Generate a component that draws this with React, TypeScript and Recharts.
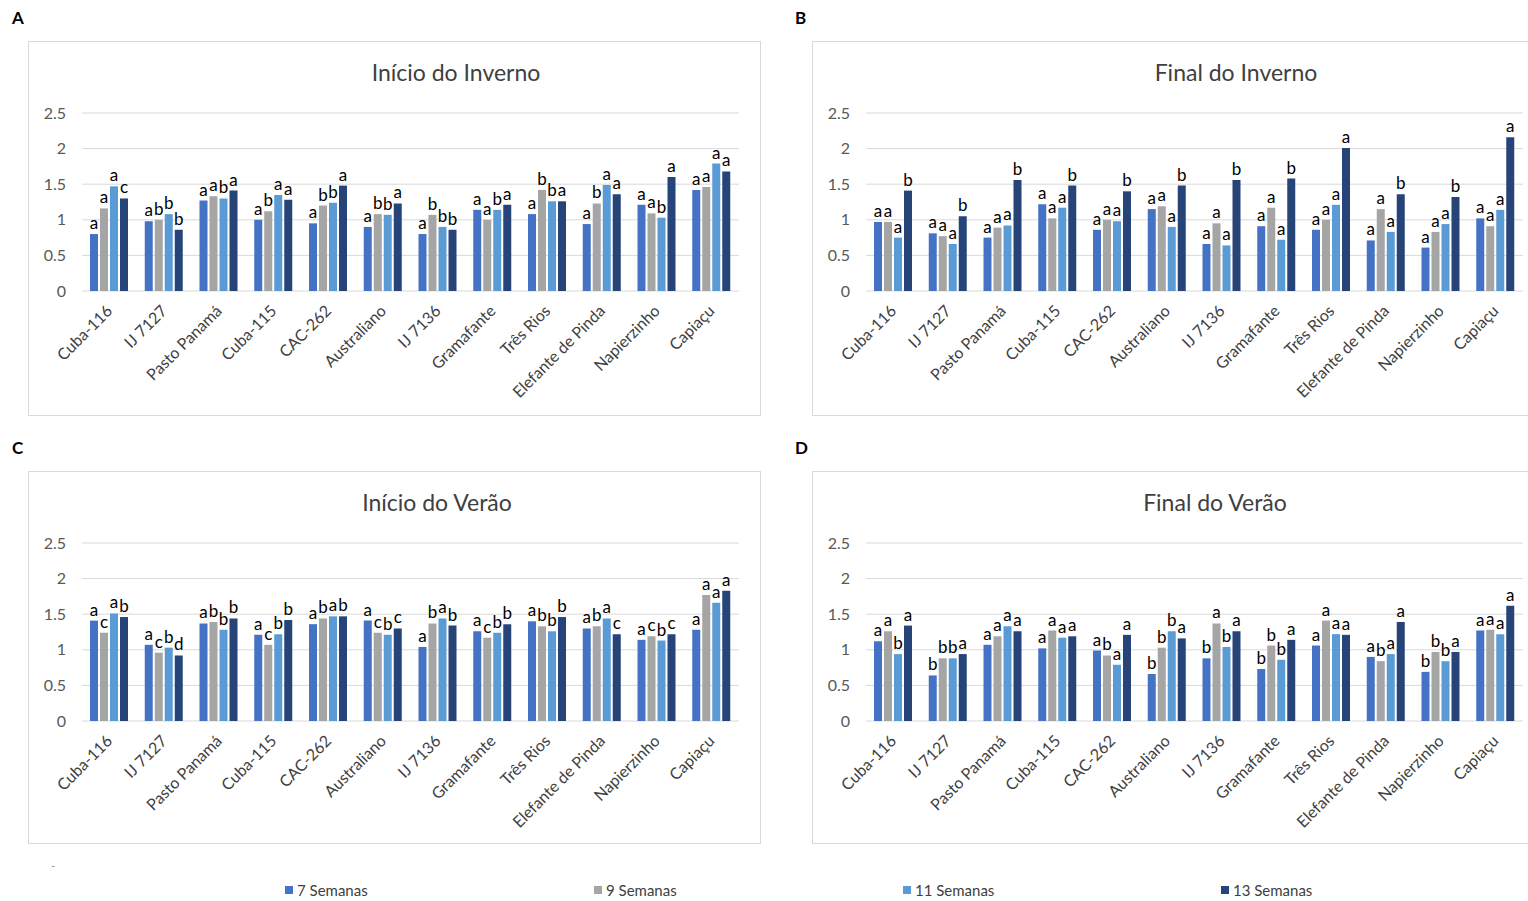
import { BarChart, Bar, XAxis, YAxis, CartesianGrid, LabelList } from 'recharts';

const categories = ["Cuba-116", "IJ 7127", "Pasto Panamá", "Cuba-115", "CAC-262", "Australiano", "IJ 7136", "Gramafante", "Três Rios", "Elefante de Pinda", "Napierzinho", "Capiaçu"];
const seriesNames = ["7 Semanas", "9 Semanas", "11 Semanas", "13 Semanas"];
const seriesColors = ["#4472C4", "#A5A5A5", "#5B9BD5", "#264478"];
const yTicks = [0, 0.5, 1, 1.5, 2, 2.5];

// A - Início do Inverno
const inicioInvernoValues = [
  [0.80, 0.98, 1.27, 1.00, 0.95, 0.90, 0.80, 1.14, 1.08, 0.94, 1.21, 1.42],
  [1.16, 1.00, 1.33, 1.12, 1.20, 1.08, 1.07, 1.00, 1.42, 1.23, 1.09, 1.46],
  [1.47, 1.08, 1.30, 1.35, 1.24, 1.07, 0.90, 1.14, 1.26, 1.49, 1.03, 1.79],
  [1.30, 0.86, 1.41, 1.28, 1.48, 1.23, 0.86, 1.21, 1.26, 1.36, 1.60, 1.68],
];
const inicioInvernoLetters = [
  ["a", "a", "a", "a", "a", "a", "a", "a", "a", "a", "a", "a"],
  ["a", "b", "a", "b", "b", "b", "b", "a", "b", "b", "a", "a"],
  ["a", "b", "b", "a", "b", "b", "b", "b", "b", "a", "b", "a"],
  ["c", "b", "a", "a", "a", "a", "b", "a", "a", "a", "a", "a"],
];

// B - Final do Inverno
const finalInvernoValues = [
  [0.97, 0.81, 0.75, 1.22, 0.86, 1.15, 0.66, 0.91, 0.86, 0.71, 0.61, 1.02],
  [0.97, 0.77, 0.89, 1.02, 1.00, 1.19, 0.95, 1.17, 1.00, 1.15, 0.83, 0.91],
  [0.75, 0.66, 0.92, 1.17, 0.98, 0.90, 0.64, 0.72, 1.21, 0.83, 0.94, 1.14],
  [1.41, 1.05, 1.56, 1.48, 1.40, 1.48, 1.56, 1.58, 2.01, 1.36, 1.32, 2.16],
];
const finalInvernoLetters = [
  ["a", "a", "a", "a", "a", "a", "a", "a", "a", "a", "a", "a"],
  ["a", "a", "a", "a", "a", "a", "a", "a", "a", "a", "a", "a"],
  ["a", "a", "a", "a", "a", "a", "a", "a", "a", "a", "a", "a"],
  ["b", "b", "b", "b", "b", "b", "b", "b", "a", "b", "b", "a"],
];

// C - Início do Verão
const inicioVeraoValues = [
  [1.41, 1.07, 1.37, 1.21, 1.36, 1.41, 1.04, 1.26, 1.40, 1.30, 1.14, 1.28],
  [1.24, 0.96, 1.39, 1.07, 1.44, 1.24, 1.37, 1.17, 1.33, 1.33, 1.19, 1.77],
  [1.51, 1.03, 1.28, 1.22, 1.47, 1.21, 1.44, 1.24, 1.26, 1.44, 1.13, 1.66],
  [1.46, 0.92, 1.44, 1.42, 1.47, 1.30, 1.34, 1.36, 1.46, 1.22, 1.22, 1.83],
];
const inicioVeraoLetters = [
  ["a", "a", "a", "a", "a", "a", "a", "a", "a", "a", "a", "a"],
  ["c", "c", "b", "c", "b", "c", "b", "c", "b", "b", "c", "a"],
  ["a", "b", "b", "b", "a", "b", "a", "b", "b", "a", "b", "a"],
  ["b", "d", "b", "b", "b", "c", "b", "b", "b", "c", "c", "a"],
];

// D - Final do Verão
const finalVeraoValues = [
  [1.12, 0.64, 1.07, 1.02, 0.99, 0.66, 0.88, 0.73, 1.06, 0.90, 0.69, 1.27],
  [1.26, 0.88, 1.19, 1.27, 0.92, 1.03, 1.37, 1.06, 1.41, 0.84, 0.97, 1.28],
  [0.94, 0.88, 1.33, 1.17, 0.79, 1.26, 1.04, 0.86, 1.22, 0.94, 0.84, 1.22],
  [1.34, 0.94, 1.26, 1.19, 1.21, 1.16, 1.26, 1.14, 1.21, 1.39, 0.97, 1.62],
];
const finalVeraoLetters = [
  ["a", "b", "a", "a", "a", "b", "b", "b", "a", "a", "b", "a"],
  ["a", "b", "a", "a", "b", "b", "a", "b", "a", "b", "b", "a"],
  ["b", "b", "a", "a", "a", "b", "b", "b", "a", "a", "b", "a"],
  ["a", "a", "a", "a", "a", "a", "a", "a", "a", "a", "a", "a"],
];

const FONT = "Lato, 'Liberation Sans', sans-serif";

const buildRows = (values: number[][], letters: string[][]) =>
  categories.map((name, i) => {
    const row: any = { name };
    values.forEach((v, s) => {
      row["s" + s] = v[i];
      row["l" + s] = letters[s][i];
    });
    return row;
  });

const CatTick = ({ x, y, payload }: any) => (
  <g transform={`translate(${x + 4},${y + 13})`}>
    <text textAnchor="end" transform="rotate(-45)" fontSize={16} fill="#404040" fontFamily={FONT}>
      {payload.value}
    </text>
  </g>
);

// letter above each bar
const LetterLabel = ({ x, y, width, value }: any) => (
  <text x={x + width / 2} y={y - 5} textAnchor="middle" fontSize={17} fill="#000" fontFamily={FONT}>
    {value}
  </text>
);

function Panel({ left, top, height, title, titleX, values, letters }: any) {
  const data = buildRows(values, letters);
  const plotTop = 71;
  const plotH = 178;
  return (
    <div style={{ position: "absolute", left, top, width: 733, height, border: "1px solid #d9d9d9", boxSizing: "border-box", background: "#fff" }}>
      <div style={{ position: "absolute", top: 16, left: titleX - 150, width: 300, textAlign: "center", fontSize: 23, color: "#404040", fontFamily: FONT }}>
        {title}
      </div>
      <BarChart
        width={733}
        height={height}
        data={data}
        margin={{ top: plotTop, right: 23, bottom: 0, left: 0 }}
        barSize={8}
        barGap={2}
      >
        <CartesianGrid vertical={false} stroke="#d9d9d9" />
        <XAxis
          dataKey="name"
          interval={0}
          height={height - plotTop - plotH}
          axisLine={false}
          tickLine={false}
          tick={<CatTick />}
        />
        <YAxis
          domain={[0, 2.5]}
          ticks={yTicks}
          width={53}
          axisLine={false}
          tickLine={false}
          tickMargin={10}
          tick={{ fontSize: 16, fill: "#595959", fontFamily: FONT }}
        />
        {seriesNames.map((n, s) => (
          <Bar key={n} dataKey={"s" + s} name={n} fill={seriesColors[s]} isAnimationActive={false}>
            <LabelList dataKey={"l" + s} content={<LetterLabel />} />
          </Bar>
        ))}
      </BarChart>
    </div>
  );
}

const panelLetter = (text: string, left: number, top: number) => (
  <div style={{ position: "absolute", left, top, fontSize: 17, fontWeight: 700, fontFamily: FONT, color: "#000" }}>{text}</div>
);

export default function App() {
  const legendX = [285, 594, 903, 1221];
  return (
    <div style={{ position: "absolute", left: 0, top: 0, width: 1528, height: 901, overflow: "hidden", background: "#fff" }}>
      {panelLetter("A", 12, 7)}
      {panelLetter("B", 795, 7)}
      {panelLetter("C", 12, 437)}
      {panelLetter("D", 795, 437)}
      <Panel left={28} top={41} height={375} title="Início do Inverno" titleX={427} values={inicioInvernoValues} letters={inicioInvernoLetters} />
      <Panel left={812} top={41} height={375} title="Final do Inverno" titleX={423} values={finalInvernoValues} letters={finalInvernoLetters} />
      <Panel left={28} top={471} height={373} title="Início do Verão" titleX={408} values={inicioVeraoValues} letters={inicioVeraoLetters} />
      <Panel left={812} top={471} height={373} title="Final do Verão" titleX={402} values={finalVeraoValues} letters={finalVeraoLetters} />
      <div style={{ position: "absolute", left: 51, top: 858, fontSize: 12, color: "#999", fontFamily: FONT }}>-</div>
      {seriesNames.map((n, s) => (
        <div key={n} style={{ position: "absolute", left: legendX[s], top: 881, display: "flex", alignItems: "center", fontSize: 15, color: "#404040", fontFamily: FONT }}>
          <span style={{ display: "inline-block", width: 8, height: 8, background: seriesColors[s], marginRight: 4 }} />
          {n}
        </div>
      ))}
    </div>
  );
}
